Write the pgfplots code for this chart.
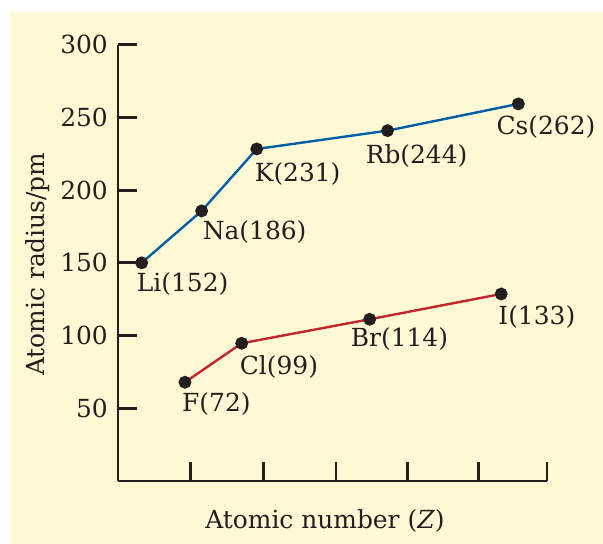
\documentclass[border=0pt]{standalone}
\usepackage{fontspec}
\setmainfont{DejaVu Serif}
\usepackage{pgfplots}
\pgfplotsset{compat=1.18}
\definecolor{cream}{HTML}{FFF9D5}
\definecolor{ink}{HTML}{231F20}
\definecolor{alkali}{HTML}{005EA8}
\definecolor{halogen}{HTML}{C1272D}
\newcommand{\bigfont}{\fontsize{25}{29}\selectfont}
\tikzset{lbl/.style={anchor=north west, inner sep=0pt, font=\bigfont, text=ink}}

\begin{document}
\begin{tikzpicture}
\path[use as bounding box] (-118bp,-63bp) rectangle (485bp,481bp);
\fill[cream] (-108bp,-63bp) rectangle (485bp,469bp);
\begin{axis}[
	scale only axis,
	width=429bp, height=436.3bp,
	xmin=0, xmax=6,
	ymin=0, ymax=300,
	axis lines=left,
	axis line style={-, line width=2.8bp, ink},
	tick style={line width=2.8bp, ink},
	tick align=inside,
	major tick length=19bp,
	xtick={1.01,2.03,3.05,4.05,5.04,6},
	xticklabels={},
	ytick={50,100,150,200,250,300},
	/pgf/number format/assume math mode=true,
	yticklabel style={font=\bigfont, text=ink, anchor=east, inner sep=0pt, xshift=-10bp},
	clip=false,
]

% alkali metals
\addplot[alkali, line width=2.4bp, mark=*, mark size=5.2bp,
	mark options={fill=ink, draw=ink}] coordinates {
	(0.331,150) (1.17,185.7) (1.94,228.3) (3.77,240.9) (5.60,259.3)
};

% halogens
\addplot[halogen, line width=2.4bp, mark=*, mark size=5.2bp,
	mark options={fill=ink, draw=ink}] coordinates {
	(0.937,67.9) (1.73,94.7) (3.52,111.2) (5.36,128.6)
};

\node[lbl, xshift=-5bp, yshift=-10bp] at (axis cs:0.331,150) {Li(152)};
\node[lbl, xshift=1bp, yshift=-9bp] at (axis cs:1.17,185.7) {Na(186)};
\node[lbl, xshift=-2bp, yshift=-13bp] at (axis cs:1.94,228.3) {K(231)};
\node[lbl, xshift=-22bp, yshift=-14bp] at (axis cs:3.77,240.9) {Rb(244)};
\node[lbl, xshift=-22bp, yshift=-11bp] at (axis cs:5.60,259.3) {Cs(262)};

\node[lbl, xshift=-3bp, yshift=-10bp] at (axis cs:0.937,67.9) {F(72)};
\node[lbl, xshift=-2bp, yshift=-12bp] at (axis cs:1.73,94.7) {Cl(99)};
\node[lbl, xshift=-19bp, yshift=-8bp] at (axis cs:3.52,111.2) {Br(114)};
\node[lbl, xshift=-3bp, yshift=-11bp] at (axis cs:5.36,128.6) {I(133)};

\node[xshift=-80bp, rotate=90, anchor=center, font=\bigfont, text=ink]
	at (rel axis cs:0,0.497) {Atomic radius/pm};
\node[yshift=-40bp, anchor=center, font=\bigfont, text=ink]
	at (axis cs:2.895,0) {Atomic number (\textit{Z})};
\end{axis}
\end{tikzpicture}
\end{document}
